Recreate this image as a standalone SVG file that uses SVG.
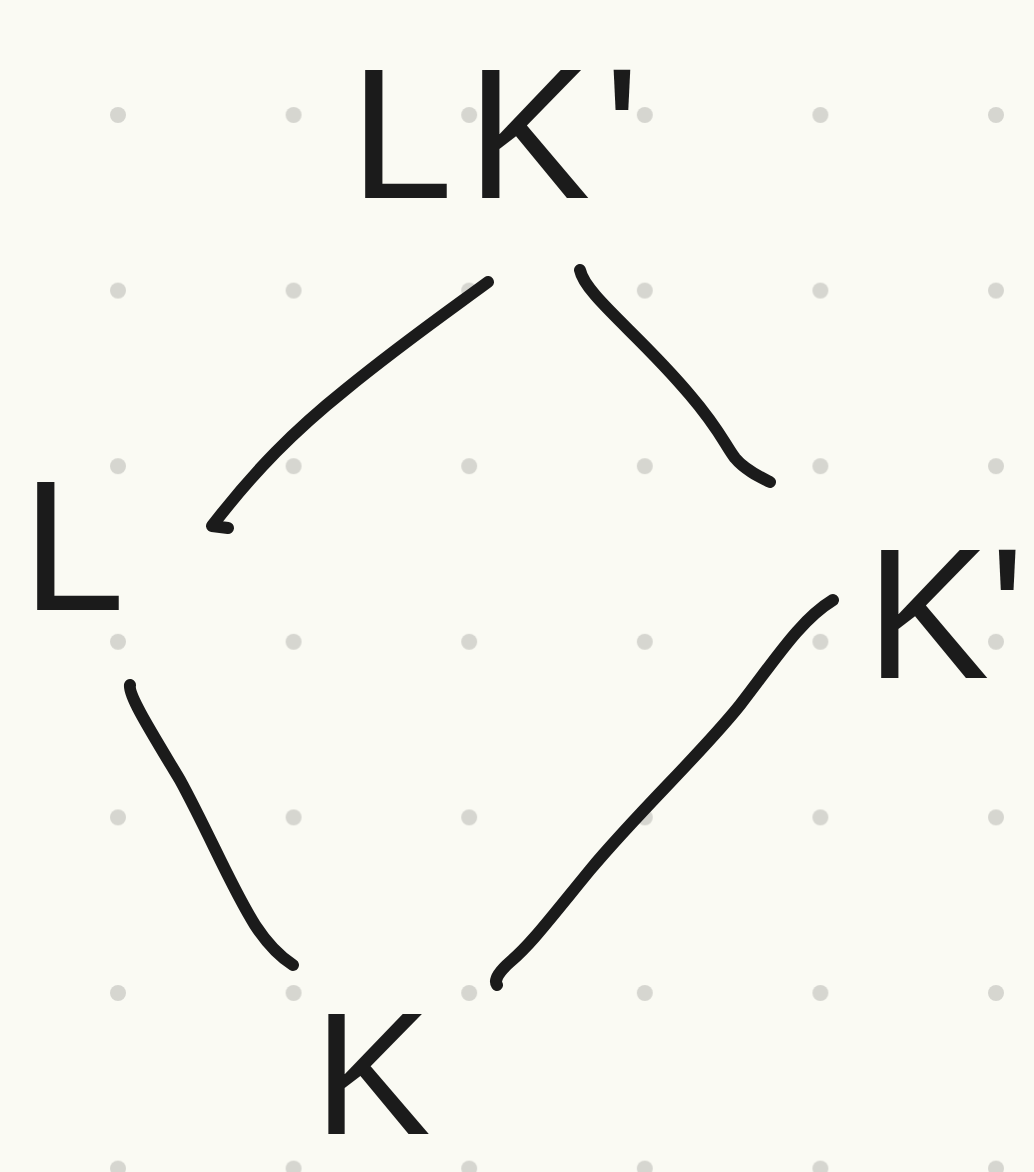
<svg xmlns="http://www.w3.org/2000/svg" width="1034" height="1172" viewBox="0 0 1034 1172">
<defs>
<style>
.lbl{font-family:"Liberation Sans","DejaVu Sans",sans-serif;font-size:185px;fill:#1b1b1b}
.edge{fill:none;stroke:#1b1b1b;stroke-width:12;stroke-linecap:round;stroke-linejoin:round}
</style>
<pattern id="dots" x="0" y="0" width="175.6" height="175.6" patternUnits="userSpaceOnUse" patternTransform="translate(118 115)">
<circle cx="0" cy="0" r="8" fill="#d6d6d0"/><circle cx="175.6" cy="0" r="8" fill="#d6d6d0"/><circle cx="0" cy="175.6" r="8" fill="#d6d6d0"/><circle cx="175.6" cy="175.6" r="8" fill="#d6d6d0"/>
</pattern>
</defs>
<rect width="1034" height="1172" fill="#fafaf3"/>
<rect width="1034" height="1172" fill="url(#dots)"/>
<g id="connectors">
<path class="edge" d="M488,282 C450,310 400,345 345,390 C295,430 255,470 212,526 L228,528"/>
<path class="edge" d="M580,270 C585,295 640,335 690,395 C720,430 725,445 735,458 C745,470 760,477 770,482"/>
<path class="edge" d="M833,600 C800,620 775,660 740,705 C700,755 640,810 590,870 C545,925 530,945 510,962 C495,975 495,982 497,985"/>
<path class="edge" d="M130,685 C128,695 150,730 180,780 C210,835 230,885 255,925 C270,948 282,958 293,965"/>
</g>
<g id="node-LK"><text class="lbl" x="350" y="198" letter-spacing="14">LK'</text></g>
<g id="node-L"><text class="lbl" x="22" y="610">L</text></g>
<g id="node-Kp"><text class="lbl" x="866" y="678">K'</text></g>
<g id="node-K"><text class="lbl" x="314" y="1134" style="font-size:175px">K</text></g>
</svg>
